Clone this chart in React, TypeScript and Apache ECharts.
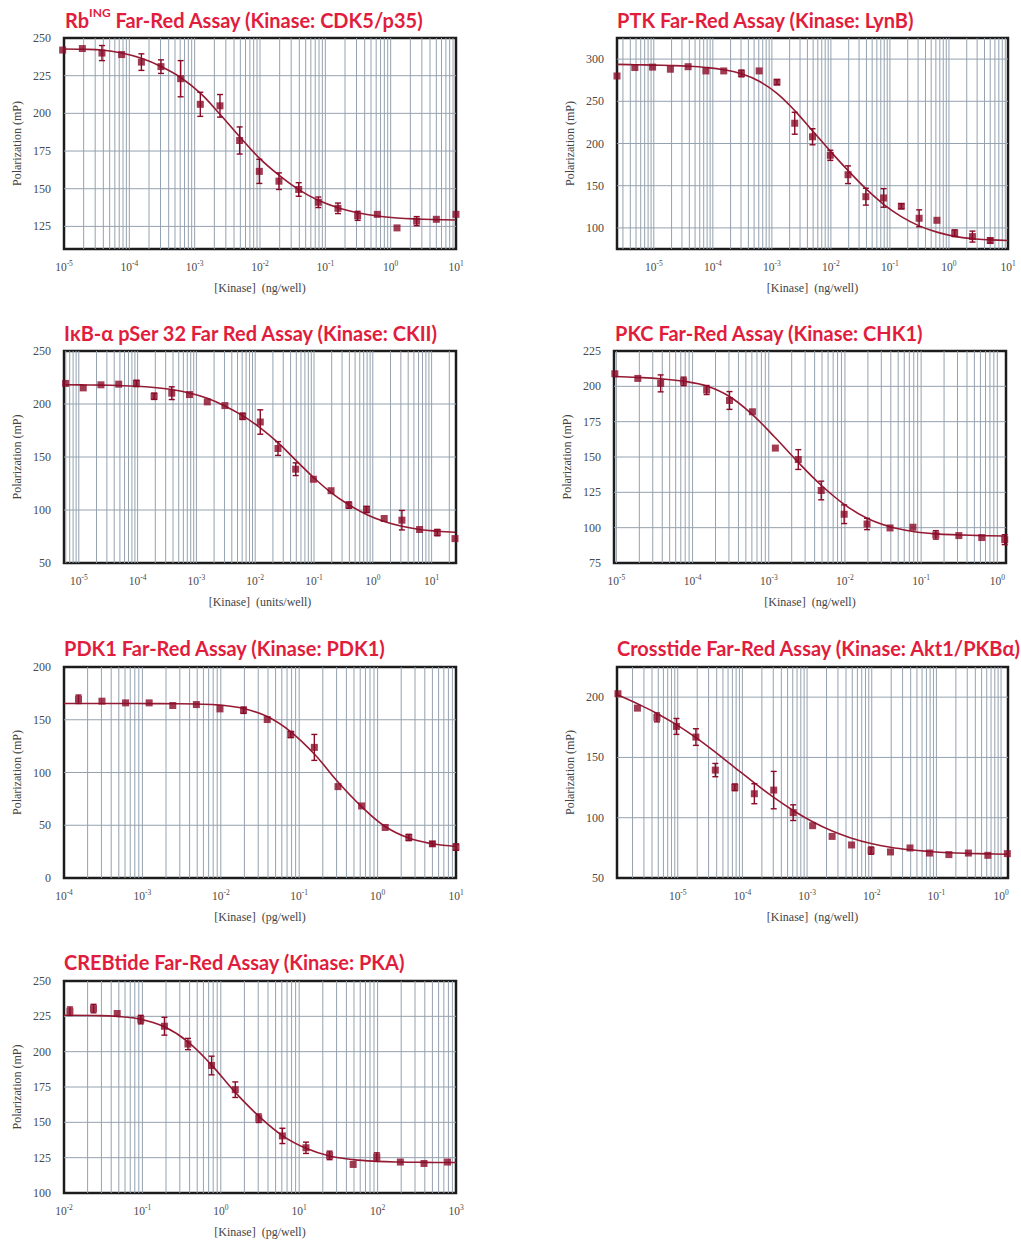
import React, { useEffect, useRef } from 'react';
import * as echarts from 'echarts';

// ---------------- DATA ----------------
// Panel 1: Rb(ING) / CDK5/p35
const p1X = [9.54e-6, 1.91e-5, 3.81e-5, 7.63e-5, 1.53e-4, 3.05e-4, 6.1e-4, 1.22e-3, 2.44e-3, 4.88e-3, 9.77e-3, 0.0195, 0.0391, 0.0781, 0.156, 0.3125, 0.625, 1.25, 2.5, 5, 10];
const p1Y = [242, 243, 240, 239, 234, 231, 223, 206, 205, 182, 161.5, 155, 149.5, 141, 137, 132, 133, 124, 128.5, 129.7, 133];
const p1Err = [0, 0, 5, 0, 5.5, 4.5, 12, 8, 7.5, 9, 8, 5.5, 4.5, 3.5, 3.5, 3, 0, 0, 3, 0, 0];
const p1CurveX = p1X;
const p1CurveY = [242.7, 242.5, 242, 240, 236.5, 231.1, 223.8, 213.4, 199.4, 184.5, 170.3, 159, 149.4, 142.3, 137.4, 134.1, 131.9, 130.6, 129.9, 129.5, 129.2];
const p1YTicks = [125, 150, 175, 200, 225, 250];

// Panel 2: PTK / LynB
const p2X = [2.38e-6, 4.77e-6, 9.54e-6, 1.91e-5, 3.81e-5, 7.63e-5, 1.53e-4, 3.05e-4, 6.1e-4, 1.22e-3, 2.44e-3, 4.88e-3, 9.77e-3, 0.0195, 0.0391, 0.0781, 0.156, 0.3125, 0.625, 1.25, 2.5, 5];
const p2Y = [280, 290, 290.5, 288, 291, 286, 286, 283, 286, 272.7, 224, 208, 186, 163, 137, 135.5, 125.7, 111.4, 109, 93.7, 89.7, 85];
const p2Err = [0, 0, 0, 0, 0, 0, 0, 4, 0, 3, 13, 9.5, 6, 10.5, 10, 11, 3, 10, 0, 4, 6.5, 3];
const p2CurveX = [2.38e-6, 4.77e-6, 9.54e-6, 1.91e-5, 3.81e-5, 7.63e-5, 1.53e-4, 3.05e-4, 6.1e-4, 1.22e-3, 2.44e-3, 4.88e-3, 9.77e-3, 0.0195, 0.0391, 0.0781, 0.156, 0.3125, 0.625, 1.25, 2.5, 5, 10];
const p2CurveY = [293.7, 293.3, 292.9, 292.4, 291.6, 290.1, 287.4, 282.6, 273.8, 259.5, 239, 215, 191, 168, 146.5, 128, 113.4, 102.4, 95, 90, 87.2, 85.8, 85];
const p2YTicks = [100, 150, 200, 250, 300];

// Panel 3: IkB-alpha pSer32 / CKII
const p3X = [5.96e-6, 1.19e-5, 2.38e-5, 4.77e-5, 9.54e-5, 1.91e-4, 3.81e-4, 7.63e-4, 1.53e-3, 3.05e-3, 6.1e-3, 0.0122, 0.0244, 0.0488, 0.0977, 0.195, 0.391, 0.781, 1.5625, 3.125, 6.25, 12.5, 25];
const p3Y = [219.4, 215.2, 218.1, 218.7, 219.4, 207.3, 210.2, 208.9, 202, 198.5, 188.4, 183, 158, 138.5, 129, 118.2, 104.6, 100.5, 92, 90.4, 81.6, 78.7, 73];
const p3Err = [0, 0, 0, 0, 3, 3, 6, 0, 0, 0, 3, 11.5, 6.5, 6, 0, 0, 3, 3, 0, 9.2, 0, 3, 0];
const p3CurveX = p3X;
const p3CurveY = [218.2, 218, 217.8, 217.4, 216.8, 215.6, 213.6, 210.4, 205.4, 198.2, 189, 177.5, 163.5, 147, 130.8, 116.5, 105, 95.8, 89.2, 84.7, 81.6, 80, 79];
const p3YTicks = [50, 100, 150, 200, 250];

// Panel 4: PKC / CHK1
const p4X = [9.54e-6, 1.91e-5, 3.81e-5, 7.63e-5, 1.53e-4, 3.05e-4, 6.1e-4, 1.22e-3, 2.44e-3, 4.88e-3, 9.77e-3, 0.0195, 0.0391, 0.0781, 0.156, 0.3125, 0.625, 1.25];
const p4Y = [208.9, 205.6, 202.1, 203.5, 197.4, 190, 182, 156.3, 148.2, 126.3, 109.5, 102.6, 99.8, 100.3, 94.9, 94.4, 93, 91.5];
const p4Err = [0, 0, 6, 3, 3.2, 6.3, 0, 0, 7, 6.6, 6.6, 4, 0, 0, 3, 0, 0, 3.5];
const p4CurveX = p4X;
const p4CurveY = [207, 206.3, 205.3, 203.6, 200.2, 192.8, 180, 163.6, 146.2, 130, 116.5, 106.6, 100.6, 97.3, 95.6, 94.9, 94.4, 94.1];
const p4YTicks = [75, 100, 125, 150, 175, 200, 225];

// Panel 5: PDK1 / PDK1
const p5X = [1.53e-4, 3.05e-4, 6.1e-4, 1.22e-3, 2.44e-3, 4.88e-3, 9.77e-3, 0.0195, 0.0391, 0.0781, 0.156, 0.3125, 0.625, 1.25, 2.5, 5, 10];
const p5Y = [169.4, 167.6, 166, 166, 163.5, 164.4, 160.3, 159, 150.2, 136, 123.8, 86.6, 68.3, 47.9, 38.4, 32.4, 29.3];
const p5Err = [4, 0, 0, 0, 0, 0, 0, 3, 0, 3, 12.3, 0, 0, 0, 3, 2, 3];
const p5CurveX = [1e-4, 1.53e-4, 3.05e-4, 6.1e-4, 1.22e-3, 2.44e-3, 4.88e-3, 9.77e-3, 0.0195, 0.0391, 0.0781, 0.156, 0.3125, 0.625, 1.25, 2.5, 5, 10];
const p5CurveY = [165.4, 165.4, 165.4, 165.4, 165.3, 165.2, 164.9, 163.9, 160.6, 153, 138.6, 117.5, 91, 67.7, 48.8, 37.8, 32.4, 29.9];
const p5YTicks = [0, 50, 100, 150, 200];

// Panel 6: Crosstide / Akt1/PKB alpha
const p6X = [1.19e-6, 2.38e-6, 4.77e-6, 9.54e-6, 1.91e-5, 3.81e-5, 7.63e-5, 1.53e-4, 3.05e-4, 6.1e-4, 1.22e-3, 2.44e-3, 4.88e-3, 9.77e-3, 0.0195, 0.0391, 0.0781, 0.156, 0.3125, 0.625, 1.25];
const p6Y = [202.8, 190.9, 183.2, 175.7, 166.9, 139.5, 125.2, 119.9, 122.9, 104.2, 93.4, 84.5, 77.4, 72.7, 71.6, 74.9, 70.7, 69.4, 70.7, 68.8, 70.2];
const p6Err = [0, 0, 3.7, 6.6, 6.9, 5.5, 2.8, 8.3, 15.5, 6.5, 0, 0, 0, 3, 0, 0, 0, 0, 0, 0, 0];
const p6CurveX = p6X;
const p6CurveY = [201.7, 194.5, 186.5, 177.2, 166.4, 154.4, 141.6, 128.9, 116.8, 106, 96.6, 88.9, 83, 78.6, 75.5, 73.4, 72, 71, 70.4, 70, 69.7];
const p6YTicks = [50, 100, 150, 200];

// Panel 7: CREBtide / PKA
const p7X = [0.0119, 0.0238, 0.0477, 0.0954, 0.191, 0.381, 0.763, 1.53, 3.05, 6.1, 12.2, 24.4, 48.8, 97.7, 195, 391, 781];
const p7Y = [228.6, 230.5, 227, 222.7, 218, 205.4, 190.2, 173.1, 152.9, 140.4, 132, 126.6, 120.2, 125.4, 121.9, 120.9, 121.9];
const p7Err = [3, 3, 0, 3, 6.3, 4, 6.6, 5.5, 3, 5.4, 4, 3, 0, 3, 0, 0, 0];
const p7CurveX = [0.01, 0.0119, 0.0238, 0.0477, 0.0954, 0.191, 0.381, 0.763, 1.53, 3.05, 6.1, 12.2, 24.4, 48.8, 97.7, 195, 391, 781, 1000];
const p7CurveY = [225.8, 225.8, 225.6, 225, 223, 217.6, 207, 190.5, 171.2, 154.4, 140.6, 131.6, 126.2, 123.6, 122.4, 121.9, 121.7, 121.6, 121.6];
const p7YTicks = [100, 125, 150, 175, 200, 225, 250];

const titles = [
  '{t|Rb}{s|ING}{t| Far-Red Assay (Kinase: CDK5/p35)}',
  '{t|PTK Far-Red Assay (Kinase: LynB)}',
  '{t|IκB-α pSer 32 Far Red Assay (Kinase: CKII)}',
  '{t|PKC Far-Red Assay (Kinase: CHK1)}',
  '{t|PDK1 Far-Red Assay (Kinase: PDK1)}',
  '{t|Crosstide Far-Red Assay (Kinase: Akt1/PKBα)}',
  '{t|CREBtide Far-Red Assay (Kinase: PKA)}',
];
const xNames = ['[Kinase]  (ng/well)', '[Kinase]  (ng/well)', '[Kinase]  (units/well)', '[Kinase]  (ng/well)', '[Kinase]  (pg/well)', '[Kinase]  (ng/well)', '[Kinase]  (pg/well)'];
const yName = 'Polarization (mP)';

// ---------------- LAYOUT / STYLE ----------------
const SERIF = '"Liberation Serif", "DejaVu Serif", serif';
const SANS = 'Lato, "Open Sans", sans-serif';
const TITLE_RED = '#e11d3e';
const MARK = '#8a0b28';
const LINE = '#951a33';
const GRIDC = '#95a2af';

const panels = [
  { x: p1X, y: p1Y, err: p1Err, cx: p1CurveX, cy: p1CurveY, yt: p1YTicks, grid: [64, 38, 392, 211], xr: [1e-5, 10], yr: [110, 250, 5], tp: [65, 6] },
  { x: p2X, y: p2Y, err: p2Err, cx: p2CurveX, cy: p2CurveY, yt: p2YTicks, grid: [617, 38, 391, 211], xr: [2.38e-6, 10], yr: [75, 325, 25], tp: [617, 6] },
  { x: p3X, y: p3Y, err: p3Err, cx: p3CurveX, cy: p3CurveY, yt: p3YTicks, grid: [64, 351, 392, 212], xr: [5.6e-6, 26], yr: [50, 250, 50], tp: [64, 319] },
  { x: p4X, y: p4Y, err: p4Err, cx: p4CurveX, cy: p4CurveY, yt: p4YTicks, grid: [614, 351, 392, 212], xr: [9.3e-6, 1.3], yr: [75, 225, 25], tp: [615, 319] },
  { x: p5X, y: p5Y, err: p5Err, cx: p5CurveX, cy: p5CurveY, yt: p5YTicks, grid: [64, 667, 392, 211], xr: [1e-4, 10], yr: [0, 200, 50], tp: [64, 634] },
  { x: p6X, y: p6Y, err: p6Err, cx: p6CurveX, cy: p6CurveY, yt: p6YTicks, grid: [617, 667, 391, 211], xr: [1.15e-6, 1.28], yr: [50, 225, 25], tp: [617, 634] },
  { x: p7X, y: p7Y, err: p7Err, cx: p7CurveX, cy: p7CurveY, yt: p7YTicks, grid: [64, 981, 392, 212], xr: [0.01, 1000], yr: [100, 250, 25], tp: [64, 948] },
];

function minorLogLines(min: number, max: number): number[] {
  const out: number[] = [];
  const e0 = Math.floor(Math.log10(min));
  const e1 = Math.ceil(Math.log10(max));
  for (let e = e0; e <= e1; e++) {
    for (let k = 1; k <= 9; k++) {
      const v = k * Math.pow(10, e);
      if (v > min * 1.002 && v < max * 0.998) out.push(v);
    }
  }
  return out;
}

function buildOption() {
  const grid: any[] = [];
  const xAxis: any[] = [];
  const yAxis: any[] = [];
  const series: any[] = [];
  const title: any[] = [];

  panels.forEach((p, i) => {
    grid.push({
      left: p.grid[0], top: p.grid[1], width: p.grid[2], height: p.grid[3],
      show: true, borderColor: '#1c1c1c', borderWidth: 2.5, backgroundColor: '#ffffff',
      containLabel: false,
    });
    xAxis.push({
      type: 'log', logBase: 10, gridIndex: i, min: p.xr[0], max: p.xr[1],
      axisLine: { show: false }, axisTick: { show: false }, splitLine: { show: false },
      axisLabel: {
        margin: 9, showMinLabel: true, showMaxLabel: true,
        formatter: (v: number) => {
          const e = Math.log10(v);
          const r = Math.round(e);
          if (Math.abs(e - r) > 1e-6) return '';
          return '{b|10}{s|' + (r < 0 ? '-' + Math.abs(r) : String(r)) + '}';
        },
        rich: {
          b: { fontFamily: SERIF, fontSize: 11.5, color: '#4a4a4a', lineHeight: 15, verticalAlign: 'bottom' },
          s: { fontFamily: SERIF, fontSize: 7.5, color: '#4a4a4a', lineHeight: 15, verticalAlign: 'top', padding: [1, 0, 0, 0] },
        },
      },
      name: xNames[i], nameLocation: 'middle', nameGap: 33,
      nameTextStyle: { fontFamily: SERIF, fontSize: 12, color: '#444' },
    });
    yAxis.push({
      type: 'value', gridIndex: i, min: p.yr[0], max: p.yr[1], interval: p.yr[2],
      axisLine: { show: false }, axisTick: { show: false }, splitLine: { show: false },
      axisLabel: {
        margin: 13, fontFamily: SERIF, fontSize: 12, color: '#4a4a4a',
        formatter: (v: number) => (p.yt.indexOf(v) >= 0 ? String(v) : ''),
      },
      name: yName, nameLocation: 'middle', nameGap: 41,
      nameTextStyle: { fontFamily: SERIF, fontSize: 12, color: '#444' },
    });

    const vLines = minorLogLines(p.xr[0], p.xr[1]).map((v) => [v, p.yr[0]]);
    const hLines = p.yt.filter((v) => v > p.yr[0] && v < p.yr[1]).map((v) => [p.xr[0], v]);
    const gridStyle = { stroke: GRIDC, lineWidth: 1, fill: null };

    series.push({
      type: 'custom', xAxisIndex: i, yAxisIndex: i, z: 1, silent: true,
      encode: { x: 0, y: 1 },
      data: vLines,
      renderItem: (params: any, api: any) => {
        const cs = params.coordSys;
        const pt = api.coord([api.value(0), api.value(1)]);
        return { type: 'line', shape: { x1: pt[0], y1: cs.y, x2: pt[0], y2: cs.y + cs.height }, style: gridStyle };
      },
    });
    series.push({
      type: 'custom', xAxisIndex: i, yAxisIndex: i, z: 1, silent: true,
      encode: { x: 0, y: 1 },
      data: hLines,
      renderItem: (params: any, api: any) => {
        const cs = params.coordSys;
        const pt = api.coord([api.value(0), api.value(1)]);
        return { type: 'line', shape: { x1: cs.x, y1: pt[1], x2: cs.x + cs.width, y2: pt[1] }, style: gridStyle };
      },
    });
    series.push({
      type: 'line', xAxisIndex: i, yAxisIndex: i, z: 3,
      data: p.cx.map((xv, k) => [xv, p.cy[k]]),
      showSymbol: false, smooth: 0.4,
      lineStyle: { color: LINE, width: 1.6 }, silent: true,
    });
    const ebData: any[] = [];
    p.x.forEach((xv, k) => { if (p.err[k] > 0) ebData.push([xv, p.y[k] - p.err[k], p.y[k] + p.err[k]]); });
    series.push({
      type: 'custom', xAxisIndex: i, yAxisIndex: i, z: 4, silent: true,
      encode: { x: 0, y: [1, 2] },
      data: ebData,
      renderItem: (params: any, api: any) => {
        const xv = api.value(0);
        const top = api.coord([xv, api.value(2)]);
        const bot = api.coord([xv, api.value(1)]);
        const w = 3;
        const style = { stroke: MARK, lineWidth: 1.4, fill: null };
        return {
          type: 'group',
          children: [
            { type: 'line', shape: { x1: top[0], y1: top[1], x2: bot[0], y2: bot[1] }, style },
            { type: 'line', shape: { x1: top[0] - w, y1: top[1], x2: top[0] + w, y2: top[1] }, style },
            { type: 'line', shape: { x1: bot[0] - w, y1: bot[1], x2: bot[0] + w, y2: bot[1] }, style },
          ],
        };
      },
    });
    series.push({
      type: 'scatter', xAxisIndex: i, yAxisIndex: i, z: 5, clip: false, silent: true,
      symbol: 'rect', symbolSize: 7,
      itemStyle: { color: MARK },
      data: p.x.map((xv, k) => [xv, p.y[k]]),
    });

    title.push({
      left: p.tp[0], top: p.tp[1], padding: 0,
      text: titles[i],
      textStyle: {
        rich: {
          t: { fontFamily: SANS, fontWeight: 'bold', fontSize: 20, color: TITLE_RED, lineHeight: 24, verticalAlign: 'bottom' },
          s: { fontFamily: SANS, fontWeight: 'bold', fontSize: 12, color: TITLE_RED, lineHeight: 24, verticalAlign: 'top' },
        },
      },
    });
  });

  return { animation: false, backgroundColor: '#ffffff', title, grid, xAxis, yAxis, series };
}

export default function App() {
  const ref = useRef<HTMLDivElement>(null);
  useEffect(() => {
    if (!ref.current) return;
    const chart = echarts.init(ref.current, undefined, { renderer: 'svg' });
    chart.setOption(buildOption() as any);
    return () => chart.dispose();
  }, []);
  return (
    <div
      ref={ref}
      style={{ position: 'absolute', left: 0, top: 0, width: 1021, height: 1240, background: '#ffffff' }}
    />
  );
}
